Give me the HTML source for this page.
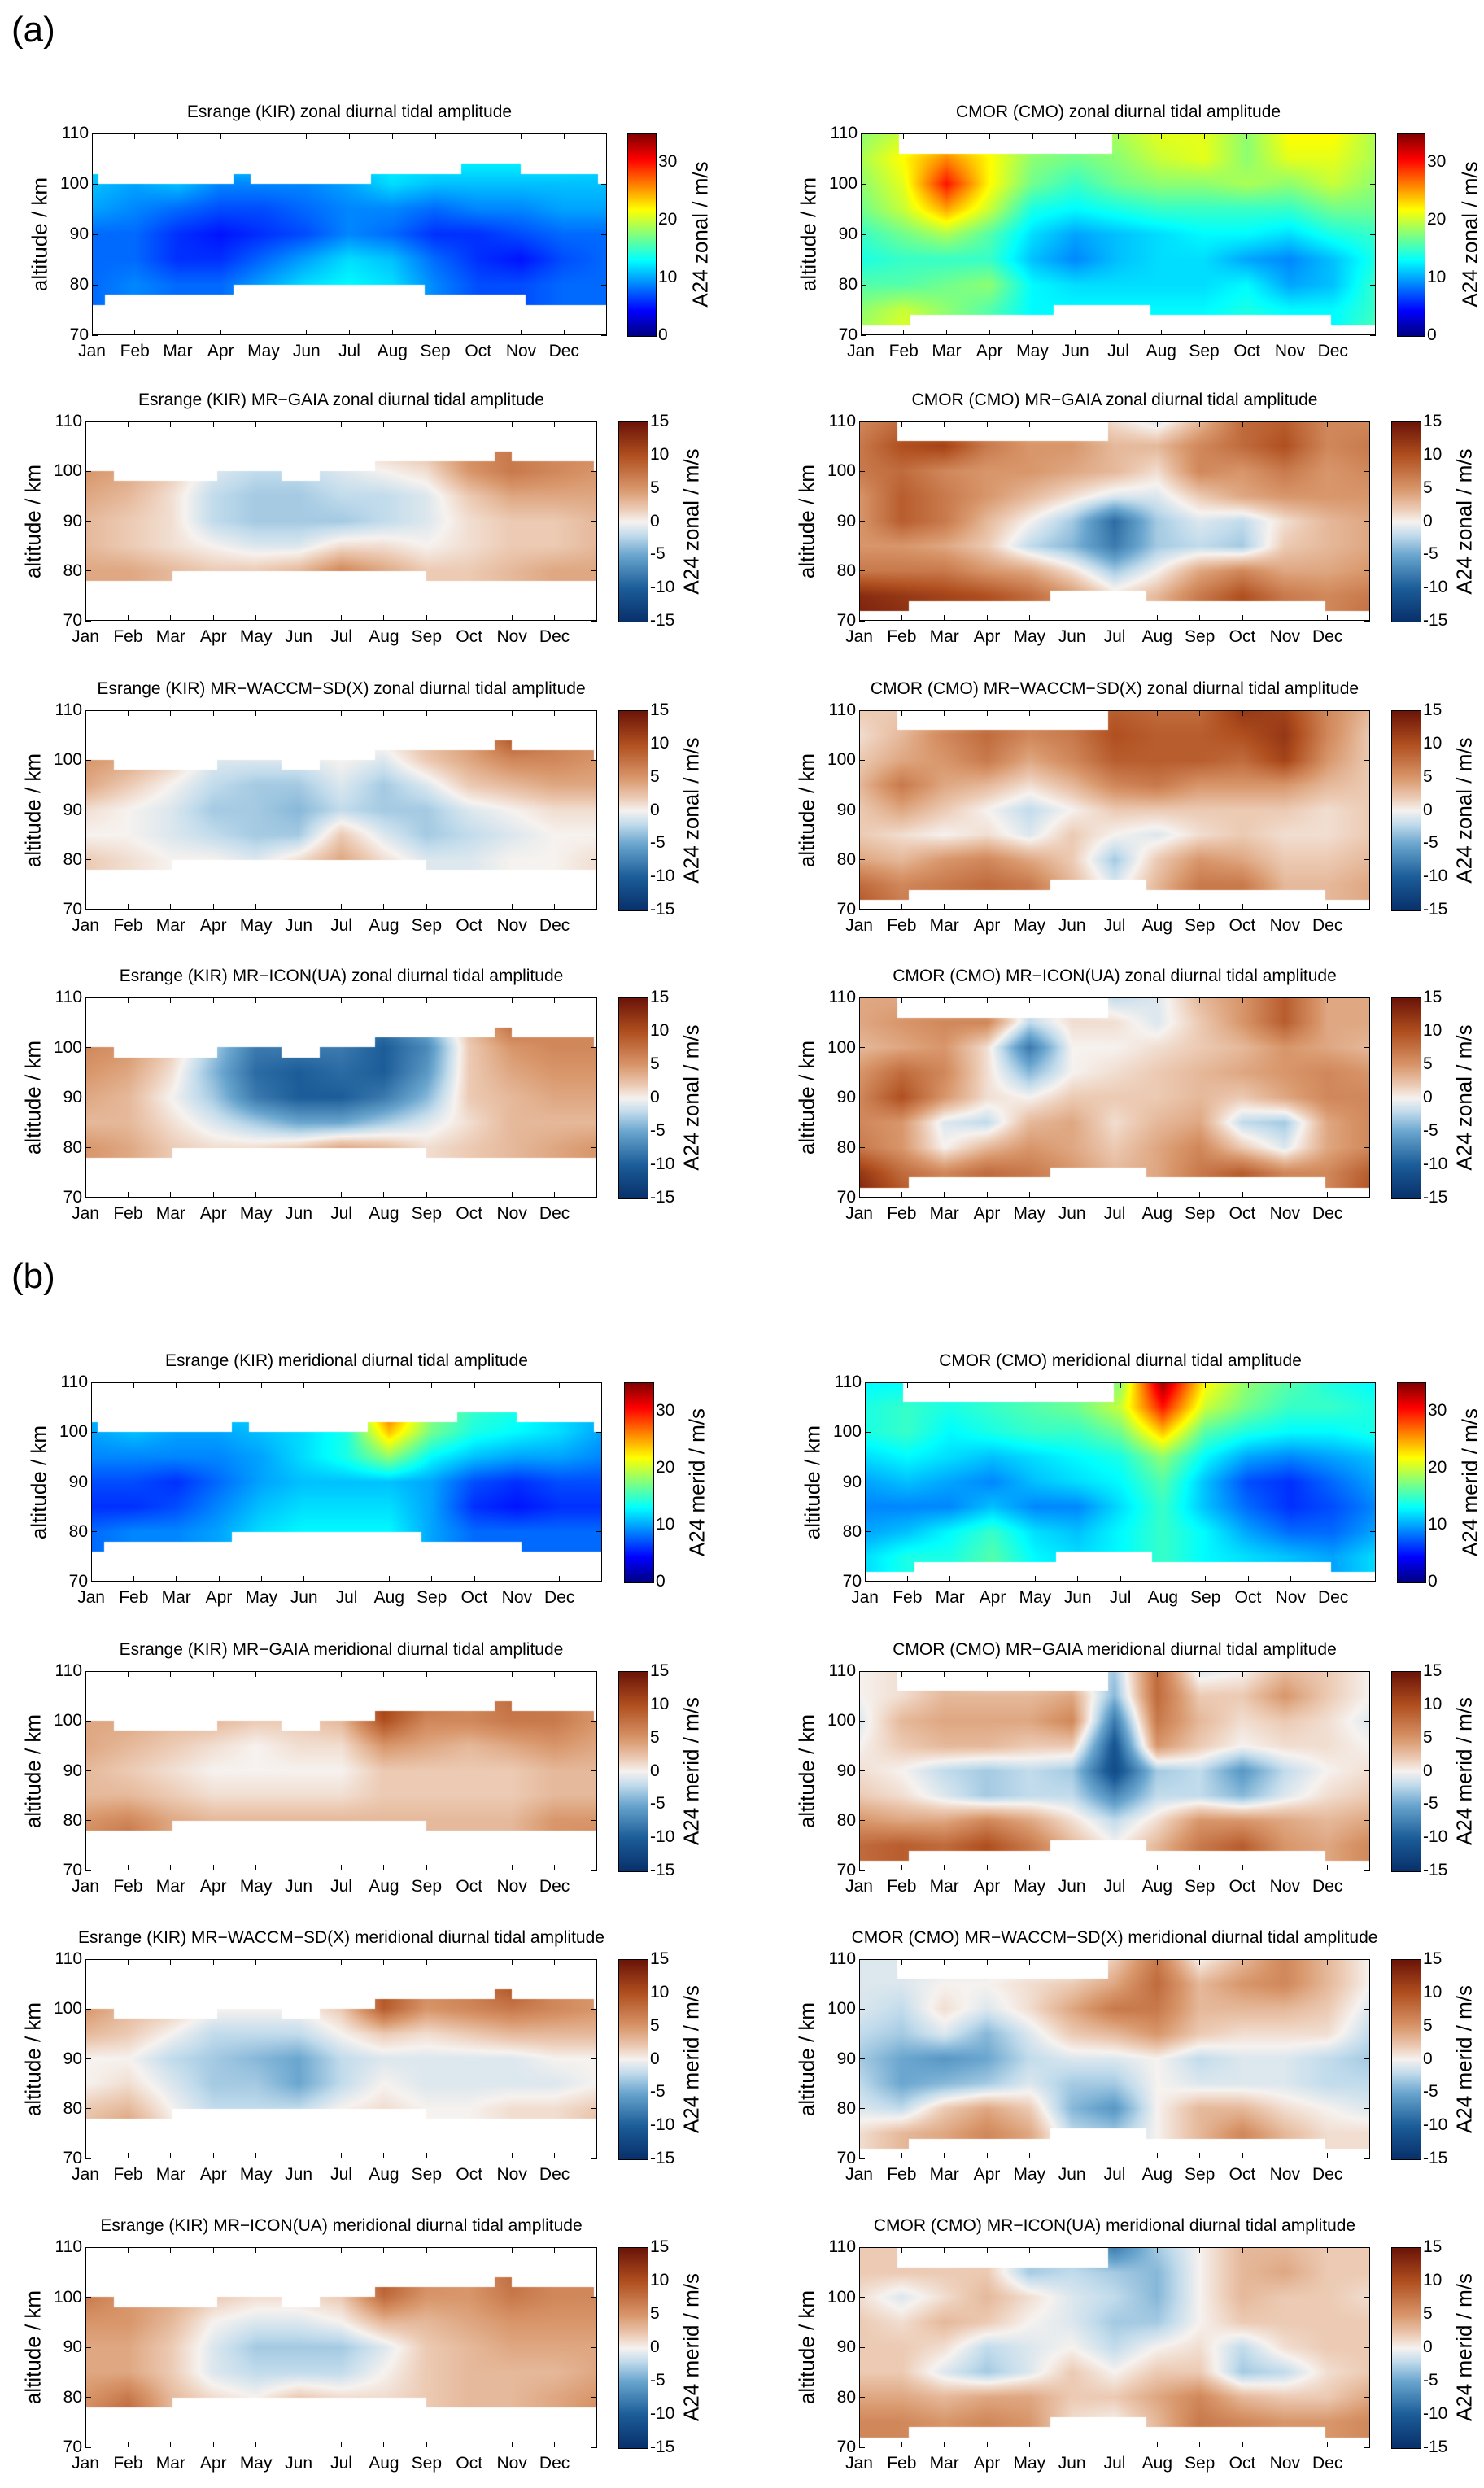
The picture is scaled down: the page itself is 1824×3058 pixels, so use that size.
<!DOCTYPE html>
<html><head><meta charset="utf-8">
<style>
html,body{margin:0;padding:0;background:#fff;}
body{width:1824px;height:3058px;position:relative;overflow:hidden;font-family:"Liberation Sans",Arial,sans-serif;color:#000;}
.abs{position:absolute;}
.title{position:absolute;font-size:21px;white-space:nowrap;transform:translateX(-50%);}
.tick{position:absolute;font-size:21px;white-space:nowrap;}
.ylab,.cblab{position:absolute;font-size:26px;white-space:nowrap;transform:translate(-50%,-50%) rotate(-90deg);}
.frame{position:absolute;border:1.5px solid #000;box-sizing:border-box;pointer-events:none;}
.tm{position:absolute;background:#000;}
.big{position:absolute;font-size:44px;}
</style></head>
<body>
<div class="big" style="left:14px;top:12px;">(a)</div>
<div class="big" style="left:14px;top:1544px;">(b)</div>
<script>
const months=["Jan","Feb","Mar","Apr","May","Jun","Jul","Aug","Sep","Oct","Nov","Dec"];
const altTicks=[70,80,90,100,110];
const gridAlts=[110,105,100,95,90,85,80,75,70];
const jetTicks=[0,10,20,30];
const divTicks=[-15,-10,-5,0,5,10,15];
// coverage masks: [monthStart, monthEnd, altitude]
const esrAbsBot=[[0,0.3,76],[0.3,3.3,78],[3.3,7.75,80],[7.75,10.1,78],[10.1,12,76]];
const esrAbsTop=[[0,0.15,102],[0.15,3.3,100],[3.3,3.7,102],[3.7,6.5,100],[6.5,8.6,102],[8.6,10.0,104],[10.0,11.8,102],[11.8,12,100]];
const esrBot=[[0,2.05,78],[2.05,8.0,80],[8.0,12,78]];
const esrTop=[[0,0.67,100],[0.67,3.1,98],[3.1,4.6,100],[4.6,5.5,98],[5.5,6.8,100],[6.8,9.6,102],[9.6,10.0,104],[10.0,11.93,102],[11.93,12,100]];
const cmoBot=[[0,1.16,72],[1.16,4.5,74],[4.5,6.75,76],[6.75,10.95,74],[10.95,12,72]];
const cmoTop=[[0,0.9,110],[0.9,5.85,106],[5.85,12,110]];

// grids: rows = altitudes 110..70 (step 5), cols = month boundaries Jan..Jan (13)
const kirZonal=[
[12,12,12,12,12,12,12,13,13,13,13,13,12],
[12,12,12,12,12,12,12,13,13,13,13,13,12],
[11,10,11,9,9,9,10,12,11,11,11,11,11],
[10,9,8,7,7,8,9,9,8,9,9,10,10],
[8,8,6,5,6,7,9,8,6,6,7,8,8],
[8,8,6,6,8,10,12,11,8,6,5,7,8],
[8,9,8,8,10,12,13,12,9,7,7,8,8],
[8,9,8,8,10,12,13,12,9,7,7,8,8],
[8,9,8,8,10,12,13,12,9,7,7,8,8]];
const cmoZonal=[
[18,20,21,20,18,18,19,21,21,18,22,22,19],
[19,22,26,22,18,17,18,20,21,18,21,21,19],
[18,21,30,22,17,15,17,18,18,19,18,20,18],
[17,20,25,20,14,13,14,15,15,15,15,17,17],
[15,17,19,16,12,10,11,12,13,13,12,14,15],
[14,15,15,15,11,9,11,12,12,10,9,11,14],
[16,16,17,18,13,12,12,12,12,13,10,11,15],
[18,20,18,16,13,13,13,13,13,14,13,13,15],
[19,21,18,16,13,13,13,13,13,14,13,13,16]];
const kirGaiaZ=[
[6,5,3,1,-1,-1,1,2,3,6,7,6,6],
[6,5,3,1,-1,-1,1,2,3,6,7,6,6],
[5,4,2,-1,-2,-2,-1,0,1,5,7,6,5],
[4,3,1,-2,-3,-3,-2,-2,-1,2,4,4,4],
[3,2,1,-2,-3,-3,-3,-2,-1,1,2,2,3],
[3,2,1,0,-1,-1,1,1,0,1,2,2,3],
[4,4,3,2,2,3,6,4,2,2,3,4,4],
[4,4,3,2,2,3,6,4,2,2,3,4,4],
[4,4,3,2,2,3,6,4,2,2,3,4,4]];
const cmoGaiaZ=[
[6,8,7,5,3,3,1,-1,3,8,9,6,6],
[7,10,11,7,5,5,3,3,6,8,10,6,7],
[7,8,6,5,5,4,3,1,6,5,7,5,6],
[5,9,7,5,3,1,-1,-1,2,4,5,5,5],
[5,9,7,3,0,-3,-9,-3,-1,-2,1,3,4],
[5,5,4,2,-2,-4,-8,-3,-2,-3,2,3,4],
[7,7,7,5,4,1,-3,0,4,6,4,4,5],
[13,12,11,10,8,5,1,3,7,10,7,6,7],
[14,13,11,10,8,5,1,3,7,10,7,6,8]];
const kirWaccmZ=[
[5,4,3,1,0,0,0,1,3,5,10,7,6],
[5,4,3,1,0,0,0,1,3,5,10,7,6],
[5,4,2,-1,-1,-1,0,-1,2,4,6,6,5],
[4,2,0,-2,-3,-3,-1,-3,-1,2,3,4,4],
[1,0,-1,-3,-3,-4,-2,-3,-3,-1,0,1,1],
[0,0,-1,-2,-3,-3,2,-1,-3,-2,-1,0,0],
[2,1,0,0,-1,1,4,1,-1,-1,0,0,1],
[2,1,0,0,-1,1,4,1,-1,-1,0,0,1],
[2,1,0,0,-1,1,4,1,-1,-1,0,0,1]];
const cmoWaccmZ=[
[2,2,3,5,6,7,9,8,8,12,11,6,3],
[1,3,6,8,6,7,10,9,9,10,12,6,2],
[2,4,5,7,4,6,9,9,9,8,11,5,2],
[3,7,4,3,1,3,6,7,5,5,5,3,2],
[2,4,2,0,-2,0,2,2,2,2,2,1,2],
[2,1,0,1,-1,2,0,-1,1,2,1,1,2],
[4,3,5,6,4,2,-3,2,5,4,2,2,3],
[8,6,7,8,7,3,-1,3,7,7,3,3,4],
[10,7,7,8,7,3,-1,3,7,7,3,3,4]];
const kirIconZ=[
[6,5,3,0,-7,-7,-6,-8,-4,3,8,6,6],
[6,5,3,0,-7,-7,-6,-8,-4,3,8,6,6],
[6,5,2,-3,-8,-8,-8,-10,-7,2,5,6,6],
[5,4,1,-4,-9,-10,-9,-10,-6,2,4,5,5],
[4,3,0,-3,-8,-10,-10,-8,-4,2,3,4,4],
[3,3,1,-1,-3,-5,-5,-3,-1,1,3,3,3],
[5,4,2,1,1,2,4,3,1,2,3,4,5],
[5,4,2,1,1,2,4,3,1,2,3,4,5],
[5,4,2,1,1,2,4,3,1,2,3,4,5]];
const cmoIconZ=[
[4,4,2,3,-1,1,-2,-1,3,5,9,4,4],
[4,5,6,6,-2,1,1,-1,2,5,9,4,4],
[3,4,5,1,-8,0,0,1,2,3,5,4,3],
[5,8,6,1,-4,0,1,2,3,4,5,6,5],
[6,10,5,1,0,2,2,2,3,2,4,6,6],
[6,5,-1,-2,3,4,1,3,4,-2,-3,4,6],
[7,5,0,3,5,4,2,4,6,2,-1,4,6],
[12,8,6,8,7,5,3,4,7,9,6,6,9],
[14,10,6,8,7,5,3,4,7,10,6,6,10]];
const kirMerid=[
[11,11,12,12,12,14,15,28,18,15,14,12,11],
[11,11,12,12,12,14,15,28,18,15,14,12,11],
[10,11,10,10,11,12,14,24,17,14,13,12,10],
[9,9,9,9,10,12,14,18,13,11,10,10,9],
[7,7,6,8,10,11,11,11,10,7,6,7,7],
[6,6,7,9,11,12,12,12,10,6,5,6,6],
[8,9,9,10,12,13,13,13,10,8,8,8,8],
[8,9,9,10,12,13,13,13,10,8,8,8,8],
[8,9,9,10,12,13,13,13,10,8,8,8,8]];
const cmoMerid=[
[13,13,13,14,15,16,18,34,22,18,16,14,13],
[14,15,14,15,16,17,20,30,20,17,15,15,14],
[14,15,13,14,15,15,17,24,16,14,13,13,14],
[12,13,12,11,12,13,14,18,13,10,9,10,11],
[10,11,10,9,11,12,13,16,11,7,6,8,10],
[9,9,9,11,9,9,12,15,11,8,6,7,9],
[10,11,13,15,12,11,13,15,13,10,8,8,10],
[12,14,14,16,13,12,13,15,13,12,11,10,12],
[12,14,14,16,13,12,13,15,13,12,11,10,12]];
const kirGaiaM=[
[4,4,4,3,3,3,5,12,8,6,8,7,5],
[4,4,4,3,3,3,5,12,8,6,8,7,5],
[4,4,3,3,2,2,3,10,6,6,7,7,5],
[4,3,2,1,0,1,1,5,4,3,4,5,4],
[3,2,1,0,0,0,0,2,2,2,2,3,3],
[3,3,2,1,1,1,1,2,2,2,2,3,3],
[5,6,4,3,3,3,3,3,3,3,3,5,5],
[6,8,4,3,3,3,3,3,3,3,3,5,6],
[6,8,4,3,3,3,3,3,3,3,3,5,6]];
const cmoGaiaM=[
[0,1,2,-1,0,0,-3,8,-1,0,3,2,0],
[0,1,3,3,3,4,-4,8,2,2,5,2,0],
[-1,3,4,4,4,6,-8,7,3,1,2,1,-1],
[0,2,3,3,2,2,-11,5,2,0,1,1,0],
[1,0,-2,-3,-2,-3,-12,-3,-2,-6,-2,0,1],
[2,1,-1,-3,-2,-2,-7,-2,-2,-4,-1,1,2],
[5,4,4,6,4,1,-2,1,5,5,4,3,4],
[8,9,8,10,7,3,0,3,7,9,5,4,6],
[8,9,8,10,7,3,0,3,7,9,5,4,6]];
const kirWaccmM=[
[5,4,3,2,1,1,3,10,6,7,10,6,5],
[5,4,3,2,1,1,3,10,6,7,10,6,5],
[5,3,2,0,0,0,2,9,5,6,7,6,5],
[3,2,0,-2,-2,-2,0,2,1,2,3,3,3],
[0,0,-2,-3,-4,-5,-2,-1,-1,-1,-1,0,0],
[0,1,-1,-3,-3,-5,-2,0,-1,-1,-1,-1,0],
[2,3,0,-2,-2,-2,0,1,0,0,1,1,2],
[3,5,1,-1,-1,-1,0,1,0,0,1,1,3],
[3,5,1,-1,-1,-1,0,1,0,0,1,1,3]];
const cmoWaccmM=[
[-1,-1,-1,-1,-1,-2,2,7,0,3,6,3,0],
[-1,-1,0,0,1,2,4,8,3,5,6,3,0],
[-1,-2,1,-1,1,4,7,7,3,3,3,2,-1],
[-2,-3,-1,-4,-1,2,3,5,2,1,1,1,-2],
[-3,-5,-6,-5,-2,-1,-1,0,-2,-1,-1,-2,-3],
[-2,-5,-4,-3,-1,-3,-3,0,-1,-1,-1,-2,-2],
[-1,-2,2,4,2,-4,-6,0,3,3,1,0,-1],
[1,3,4,6,4,-2,-3,0,3,6,3,1,1],
[1,3,4,6,4,-2,-3,0,3,6,3,1,1]];
const kirIconM=[
[8,6,4,2,1,2,3,10,6,5,8,6,6],
[8,6,4,2,1,2,3,10,6,5,8,6,6],
[7,5,4,2,1,1,2,8,5,5,7,6,6],
[5,5,3,0,-1,-1,0,3,3,4,5,5,5],
[4,4,2,-1,-3,-3,-3,-1,2,3,4,4,4],
[4,4,2,-1,-2,-2,-2,0,2,3,3,3,4],
[5,7,3,1,0,2,1,1,2,3,3,4,5],
[6,9,3,1,0,2,1,1,2,3,3,4,6],
[6,9,3,1,0,2,1,1,2,3,3,4,6]];
const cmoIconM=[
[2,2,1,2,-2,-3,-8,-3,0,3,3,2,2],
[2,2,2,2,-3,-2,-3,-4,0,3,4,2,2],
[1,-1,1,3,1,-1,-2,-4,0,3,2,2,1],
[2,1,3,2,0,-1,-3,-3,0,2,2,2,2],
[2,2,1,-2,-1,0,-2,0,1,-2,1,2,2],
[2,2,-1,-3,-1,2,0,2,2,-3,-2,1,2],
[4,4,3,4,4,2,2,4,6,3,2,2,4],
[6,6,5,6,5,1,0,3,7,6,5,5,6],
[6,6,5,6,5,1,0,3,7,6,5,5,6]];

function jet(v){const t=Math.max(0,Math.min(1,v/35));const c=x=>Math.round(255*Math.max(0,Math.min(1,1.5-Math.abs(4*t-x))));return [c(3),c(2),c(1)];}
const divStops=[[-15,[8,48,107]],[-10,[28,93,153]],[-5,[106,166,207]],[-2,[194,220,236]],[0,[246,242,239]],[2,[236,202,179]],[5,[216,150,106]],[10,[176,79,31]],[15,[107,20,8]]];
function div(v){v=Math.max(-15,Math.min(15,v));for(let i=0;i<divStops.length-1;i++){const a=divStops[i],b=divStops[i+1];if(v<=b[0]){const f=(v-a[0])/(b[0]-a[0]);return [0,1,2].map(k=>Math.round(a[1][k]+f*(b[1][k]-a[1][k])));}}return divStops[divStops.length-1][1];}
function segVal(segs,m){for(const s of segs){if(m>=s[0]&&m<s[1])return s[2];}return segs[segs.length-1][2];}
function el(tag,cls,parent){const e=document.createElement(tag);if(cls)e.className=cls;(parent||document.body).appendChild(e);return e;}

function panel(o){
  const W=o.w,H=o.h;
  const xS=m=>o.x+m*W/12, yS=a=>o.y+(110-a)*H/40;
  const t=el('div','title');
  
  
  t.textContent=o.title;t.style.left=(o.x+W/2)+'px';t.style.top=(o.y-38)+'px';
  const cv=el('canvas','abs');
  
  
  cv.width=W;cv.height=H;cv.style.left=o.x+'px';cv.style.top=o.y+'px';
  const ctx=cv.getContext('2d');const img=ctx.createImageData(W,H);const g=o.grid;
  for(let px=0;px<W;px++){
    const m=(px+0.5)/W*12;const bot=segVal(o.bot,m),top=segVal(o.top,m);
    const c0=Math.min(11,Math.floor(m)),fc=m-c0;
    for(let py=0;py<H;py++){
      const a=110-(py+0.5)/H*40;if(a<bot||a>top)continue;
      const r=(110-a)/5;const r0=Math.min(7,Math.floor(r)),fr=r-r0;
      const v=(g[r0][c0]*(1-fc)+g[r0][c0+1]*fc)*(1-fr)+(g[r0+1][c0]*(1-fc)+g[r0+1][c0+1]*fc)*fr;
      const col=o.jet?jet(v):div(v);const i=(py*W+px)*4;
      img.data[i]=col[0];img.data[i+1]=col[1];img.data[i+2]=col[2];img.data[i+3]=255;
    }
  }
  ctx.putImageData(img,0,0);
  const f=el('div','frame');
  
  
  f.style.left=o.x+'px';f.style.top=o.y+'px';f.style.width=W+'px';f.style.height=H+'px';
  months.forEach((mn,i)=>{
    const x=xS(i);
    [o.y,o.y+H-7].forEach(yy=>{const tk=el('div','tm');
      
      
      tk.style.left=(x-0.5)+'px';tk.style.top=yy+'px';tk.style.width='1px';tk.style.height='7px';});
    const lb=el('div','tick');
    
    
    lb.textContent=mn;lb.style.left=x+'px';lb.style.top=(o.y+H+8)+'px';lb.style.transform='translateX(-50%)';
  });
  altTicks.forEach(a=>{
    const y=yS(a);
    [o.x,o.x+W-7].forEach(xx=>{const tk=el('div','tm');
      
      
      tk.style.left=xx+'px';tk.style.top=(y-0.5)+'px';tk.style.width='7px';tk.style.height='1px';});
    const lb=el('div','tick');
    
    
    lb.textContent=a;lb.style.right=(1824-o.x+4)+'px';lb.style.top=(y-12)+'px';
  });
  const yl=el('div','ylab');
  
  
  yl.textContent='altitude / km';yl.style.left=(o.x-64)+'px';yl.style.top=(o.y+H/2)+'px';
  // colorbar
  const cb=el('canvas','abs');
  
  
  cb.width=o.cbw;cb.height=H;cb.style.left=o.cbx+'px';cb.style.top=o.y+'px';cb.style.border='1px solid #000';cb.style.boxSizing='border-box';
  const cc=cb.getContext('2d');
  const lo=o.jet?0:-15,hi=o.jet?35:15;
  for(let py=0;py<H;py++){const v=hi-(py+0.5)/H*(hi-lo);const col=o.jet?jet(v):div(v);cc.fillStyle='rgb('+col.join(',')+')';cc.fillRect(0,py,o.cbw,1);}
  (o.jet?jetTicks:divTicks).forEach(v=>{
    const y=o.y+(hi-v)/(hi-lo)*H;
    const lb=el('div','tick');
    
    
    lb.textContent=v;lb.style.left=(o.cbx+o.cbw+4)+'px';lb.style.top=(y-12)+'px';
  });
  const cl=el('div','cblab');
  
  
  cl.textContent=o.cblab;cl.style.left=(o.cbx+90)+'px';cl.style.top=(o.y+H/2)+'px';
}

const Z='A24 zonal / m/s',M='A24 merid / m/s';
const rows=[
 {y:164,h:248,L:[113,633,771,34],R:[1058,633,1717,33],lt:'Esrange (KIR) zonal diurnal tidal amplitude',rt:'CMOR (CMO) zonal diurnal tidal amplitude',lg:kirZonal,rg:cmoZonal,jet:true,lab:Z,abs:true},
 {y:518,h:245,L:[105,629,760,35],R:[1056,628,1710,35],lt:'Esrange (KIR) MR\u2212GAIA zonal diurnal tidal amplitude',rt:'CMOR (CMO) MR\u2212GAIA zonal diurnal tidal amplitude',lg:kirGaiaZ,rg:cmoGaiaZ,jet:false,lab:Z},
 {y:873,h:245,L:[105,629,760,35],R:[1056,628,1710,35],lt:'Esrange (KIR) MR\u2212WACCM\u2212SD(X) zonal diurnal tidal amplitude',rt:'CMOR (CMO) MR\u2212WACCM\u2212SD(X) zonal diurnal tidal amplitude',lg:kirWaccmZ,rg:cmoWaccmZ,jet:false,lab:Z},
 {y:1226,h:246,L:[105,629,760,35],R:[1056,628,1710,35],lt:'Esrange (KIR) MR\u2212ICON(UA) zonal diurnal tidal amplitude',rt:'CMOR (CMO) MR\u2212ICON(UA) zonal diurnal tidal amplitude',lg:kirIconZ,rg:cmoIconZ,jet:false,lab:Z},
 {y:1699,h:245,L:[112,628,767,35],R:[1063,628,1717,34],lt:'Esrange (KIR) meridional diurnal tidal amplitude',rt:'CMOR (CMO) meridional diurnal tidal amplitude',lg:kirMerid,rg:cmoMerid,jet:true,lab:M,abs:true},
 {y:2054,h:245,L:[105,629,760,35],R:[1056,628,1710,35],lt:'Esrange (KIR) MR\u2212GAIA meridional diurnal tidal amplitude',rt:'CMOR (CMO) MR\u2212GAIA meridional diurnal tidal amplitude',lg:kirGaiaM,rg:cmoGaiaM,jet:false,lab:M},
 {y:2408,h:245,L:[105,629,760,35],R:[1056,628,1710,35],lt:'Esrange (KIR) MR\u2212WACCM\u2212SD(X) meridional diurnal tidal amplitude',rt:'CMOR (CMO) MR\u2212WACCM\u2212SD(X) meridional diurnal tidal amplitude',lg:kirWaccmM,rg:cmoWaccmM,jet:false,lab:M},
 {y:2762,h:246,L:[105,629,760,35],R:[1056,628,1710,35],lt:'Esrange (KIR) MR\u2212ICON(UA) meridional diurnal tidal amplitude',rt:'CMOR (CMO) MR\u2212ICON(UA) meridional diurnal tidal amplitude',lg:kirIconM,rg:cmoIconM,jet:false,lab:M}
];
rows.forEach(r=>{
  panel({x:r.L[0],w:r.L[1],cbx:r.L[2],cbw:r.L[3],y:r.y,h:r.h,title:r.lt,grid:r.lg,jet:r.jet,cblab:r.lab,bot:r.abs?esrAbsBot:esrBot,top:r.abs?esrAbsTop:esrTop});
  panel({x:r.R[0],w:r.R[1],cbx:r.R[2],cbw:r.R[3],y:r.y,h:r.h,title:r.rt,grid:r.rg,jet:r.jet,cblab:r.lab,bot:cmoBot,top:cmoTop});
});
</script>
</body></html>
